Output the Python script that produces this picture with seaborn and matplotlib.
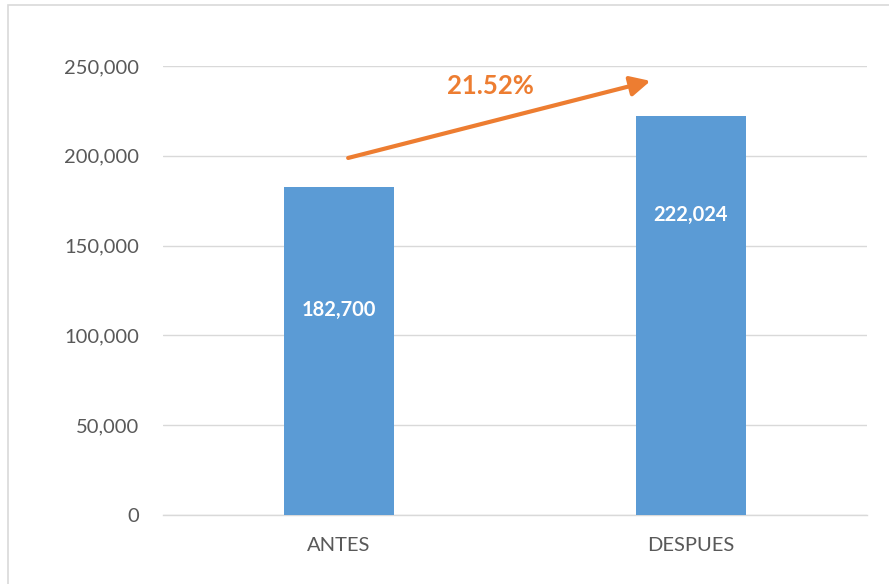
import matplotlib
matplotlib.use("Agg")
import matplotlib.pyplot as plt
import seaborn as sns
import pandas as pd
from matplotlib.patches import Rectangle, FancyArrowPatch

categories = ["ANTES", "DESPUES"]
values = [182700, 222024]
bar_labels = ["182,700", "222,024"]
growth_label = "21.52%"
yticks = [0, 50000, 100000, 150000, 200000, 250000]
ytick_labels = ["0", "50,000", "100,000", "150,000", "200,000", "250,000"]

df = pd.DataFrame({"cat": categories, "val": values})

sns.set_theme(style="white")
plt.rcParams["font.family"] = ["Lato", "DejaVu Sans"]

W, H = 889, 584
fig = plt.figure(figsize=(W / 100, H / 100), dpi=100)
fig.patch.set_facecolor("white")
fig.patches.append(Rectangle((8 / W, -0.1), 1.2, (584 - 5) / H + 0.1,
                             transform=fig.transFigure, fill=False,
                             edgecolor="#D9D9D9", linewidth=1.2))

ax = fig.add_axes([163 / W, (H - 515) / H, 704 / W, 449 / H])
sns.barplot(data=df, x="cat", y="val", ax=ax, color="#5B9BD5",
            width=0.3125, saturation=1, zorder=3)
for p in ax.patches:
    p.set_edgecolor("none")

ax.set_xlim(-0.5, 1.5)
ax.set_ylim(0, 250000)
ax.set_yticks(yticks)
ax.set_yticklabels(ytick_labels)
ax.set_xlabel("")
ax.set_ylabel("")
ax.yaxis.grid(True, color="#D9D9D9", linewidth=1, zorder=0)
ax.set_axisbelow(True)
for s in ["top", "right", "left"]:
    ax.spines[s].set_visible(False)
ax.spines["bottom"].set_color("#D9D9D9")
ax.spines["bottom"].set_linewidth(1)
ax.tick_params(axis="both", length=0, colors="#595959", labelsize=14.5)
ax.tick_params(axis="y", pad=17)
ax.tick_params(axis="x", pad=16)

label_y = [114000, 167000]
for i, (lab, ly) in enumerate(zip(bar_labels, label_y)):
    ax.text(i, ly, lab, ha="center", va="center", color="white",
            fontsize=14.5, fontweight="bold", zorder=5)

arrow = FancyArrowPatch((0.026, 198800), (0.885, 241700),
                        arrowstyle="-|>,head_length=12,head_width=6",
                        color="#ED7D31", linewidth=3, zorder=6,
                        mutation_scale=1, shrinkA=0, shrinkB=0)
ax.add_patch(arrow)
ax.text(0.43, 238900, growth_label, ha="center", va="center",
        color="#ED7D31", fontsize=18.5, fontweight="bold", zorder=6)

fig.savefig("out.png", dpi=100)
